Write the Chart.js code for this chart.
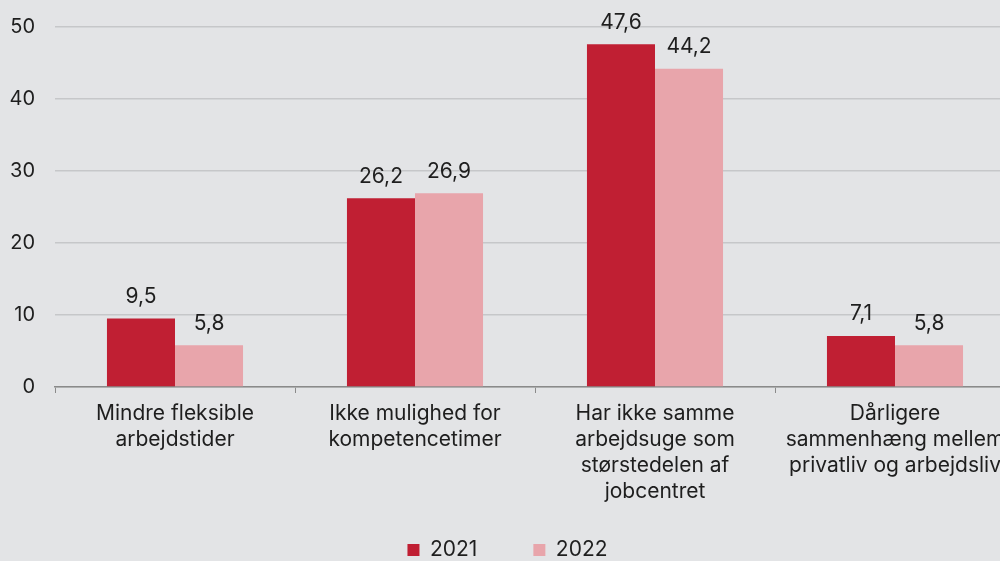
<!DOCTYPE html>
<html>
<head>
<meta charset="utf-8">
<script src="https://cdn.jsdelivr.net/npm/chart.js@4"></script>
<style>
  html, body { margin: 0; padding: 0; background: #e3e4e6; overflow: hidden; }
  .wrap { width: 1020px; height: 561px; position: relative; }
</style>
</head>
<body>
<div class="wrap"><canvas id="canvas"></canvas></div>
<script>
const categories = [
    ['Mindre fleksible', 'arbejdstider'],
    ['Ikke mulighed for', 'kompetencetimer'],
    ['Har ikke samme', 'arbejdsuge som', 'størstedelen af', 'jobcentret'],
    ['Dårligere', 'sammenhæng mellem', 'privatliv og arbejdsliv']
]
const values2021 = [9.5, 26.2, 47.6, 7.1]
const values2022 = [5.8, 26.9, 44.2, 5.8]
const yTicks = [0, 10, 20, 30, 40, 50]

const textColor = '#1e1e1e'
const fontFamily = 'Inter, "Noto Sans", sans-serif'
const fontSize = 21
const legendPadding = 56

const valueLabels = {
    id: 'valueLabels',
    afterDatasetsDraw: chart => {
        const ctx = chart.ctx
        ctx.save()
        ctx.font = `${fontSize}px ${fontFamily}`
        ctx.fillStyle = textColor
        ctx.textAlign = 'center'
        ctx.textBaseline = 'middle'
        chart.data.datasets.forEach((ds, i) => {
            chart.getDatasetMeta(i).data.forEach((bar, j) => {
                const txt = String(ds.data[j]).replace('.', ',')
                ctx.fillText(txt, bar.x, bar.y - 22)
            })
        })
        ctx.restore()
    }
}

// legend padding is also its vertical padding: keep the box small for layout,
// then stretch it upwards so the row sits near the bottom edge (legend clips to its box)
const legendFit = {
    id: 'legendFit',
    beforeLayout: chart => {
        const legend = chart.legend
        if (legend && !legend._fitPatched) {
            const orig = legend.fit
            legend.fit = function () {
                orig.call(this)
                this.height = 49
            }
            legend._fitPatched = true
        }
    },
    afterLayout: chart => {
        const legend = chart.legend
        const top = 550 - fontSize / 2 - legendPadding
        legend.top = top
        legend.bottom = chart.height
        legend.height = chart.height - top
    }
}

const ctx = document.querySelector('#canvas').getContext('2d')
const myChart = new Chart(ctx, {
    type: 'bar',
    data: {
        labels: categories,
        datasets: [{
            label: '2021',
            data: values2021,
            backgroundColor: '#c01f33',
            categoryPercentage: 0.567,
            barPercentage: 1
        }, {
            label: '2022',
            data: values2022,
            backgroundColor: '#e8a5ab',
            categoryPercentage: 0.567,
            barPercentage: 1
        }]
    },
    options: {
        responsive: true,
        maintainAspectRatio: false,
        animation: false,
        layout: {
            padding: { top: 0, right: 5, left: 0, bottom: 0 }
        },
        scales: {
            x: {
                grid: {
                    display: true,
                    drawOnChartArea: false,
                    drawTicks: true,
                    tickLength: 6,
                    color: '#8a8a8a',
                    offset: true
                },
                border: { color: '#8a8a8a', width: 1.5 },
                ticks: {
                    color: textColor,
                    font: { family: fontFamily, size: fontSize, lineHeight: 1.24 },
                    padding: 8,
                    maxRotation: 0,
                    autoSkip: false
                },
                afterFit: scale => { scale.height = 125 }
            },
            y: {
                min: 0,
                max: 50,
                afterBuildTicks: scale => {
                    scale.ticks = yTicks.map(v => ({ value: v }))
                },
                grid: {
                    color: '#c6c7c9',
                    lineWidth: 1.5,
                    drawTicks: false
                },
                border: { display: false },
                ticks: {
                    color: textColor,
                    font: { family: fontFamily, size: 20 },
                    padding: 20
                },
                afterFit: scale => {
                    scale.width = 55
                    scale.paddingTop = 27
                }
            }
        },
        plugins: {
            legend: {
                position: 'bottom',
                labels: {
                    color: textColor,
                    font: { family: fontFamily, size: fontSize },
                    boxWidth: 12,
                    boxHeight: 12,
                    padding: legendPadding
                }
            },
            tooltip: { enabled: false }
        }
    },
    plugins: [valueLabels, legendFit]
})
</script>
</body>
</html>
